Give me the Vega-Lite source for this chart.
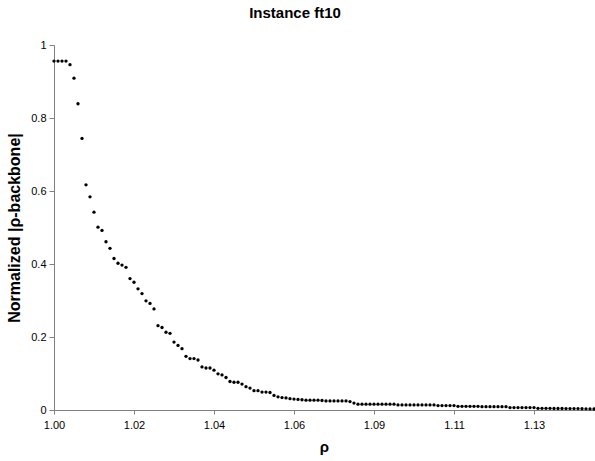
{
  "$schema": "https://vega.github.io/schema/vega-lite/v6.json",
  "autosize": "none",
  "width": 540,
  "height": 365,
  "padding": {"left": 54, "top": 45, "right": 1, "bottom": 51},
  "background": "white",
  "config": {
    "view": {"stroke": null},
    "font": "Liberation Sans"
  },
  "title": {
    "text": "Instance ft10",
    "fontSize": 15,
    "fontWeight": "bold",
    "font": "Liberation Sans",
    "color": "#000000",
    "anchor": "middle",
    "dx": -29,
    "offset": 18
  },
  "data": {
    "values": [
      {"rho": 1.0, "nb": 0.956}, {"rho": 1.00107, "nb": 0.956}, {"rho": 1.00214, "nb": 0.956}, {"rho": 1.00321, "nb": 0.956},
      {"rho": 1.00428, "nb": 0.946}, {"rho": 1.00535, "nb": 0.909}, {"rho": 1.00642, "nb": 0.839}, {"rho": 1.00749, "nb": 0.744},
      {"rho": 1.00856, "nb": 0.617}, {"rho": 1.00963, "nb": 0.584}, {"rho": 1.0107, "nb": 0.542}, {"rho": 1.01177, "nb": 0.501},
      {"rho": 1.01284, "nb": 0.492}, {"rho": 1.01391, "nb": 0.461}, {"rho": 1.01498, "nb": 0.443}, {"rho": 1.01605, "nb": 0.415},
      {"rho": 1.01712, "nb": 0.402}, {"rho": 1.01819, "nb": 0.397}, {"rho": 1.01926, "nb": 0.391}, {"rho": 1.02033, "nb": 0.36},
      {"rho": 1.0214, "nb": 0.35}, {"rho": 1.02247, "nb": 0.332}, {"rho": 1.02354, "nb": 0.319}, {"rho": 1.02461, "nb": 0.299},
      {"rho": 1.02568, "nb": 0.292}, {"rho": 1.02675, "nb": 0.277}, {"rho": 1.02782, "nb": 0.231}, {"rho": 1.02889, "nb": 0.226},
      {"rho": 1.02996, "nb": 0.213}, {"rho": 1.03103, "nb": 0.21}, {"rho": 1.0321, "nb": 0.186}, {"rho": 1.03317, "nb": 0.177},
      {"rho": 1.03424, "nb": 0.168}, {"rho": 1.03531, "nb": 0.147}, {"rho": 1.03638, "nb": 0.141}, {"rho": 1.03745, "nb": 0.141},
      {"rho": 1.03852, "nb": 0.137}, {"rho": 1.03959, "nb": 0.118}, {"rho": 1.04066, "nb": 0.115}, {"rho": 1.04173, "nb": 0.115},
      {"rho": 1.0428, "nb": 0.109}, {"rho": 1.04387, "nb": 0.099}, {"rho": 1.04494, "nb": 0.096}, {"rho": 1.04601, "nb": 0.089},
      {"rho": 1.04708, "nb": 0.078}, {"rho": 1.04815, "nb": 0.076}, {"rho": 1.04922, "nb": 0.076}, {"rho": 1.05029, "nb": 0.071},
      {"rho": 1.05136, "nb": 0.064}, {"rho": 1.05243, "nb": 0.06}, {"rho": 1.0535, "nb": 0.053}, {"rho": 1.05457, "nb": 0.053},
      {"rho": 1.05564, "nb": 0.049}, {"rho": 1.05671, "nb": 0.049}, {"rho": 1.05778, "nb": 0.048}, {"rho": 1.05885, "nb": 0.04},
      {"rho": 1.05992, "nb": 0.036}, {"rho": 1.06099, "nb": 0.034}, {"rho": 1.06206, "nb": 0.033}, {"rho": 1.06313, "nb": 0.031},
      {"rho": 1.0642, "nb": 0.03}, {"rho": 1.06527, "nb": 0.029}, {"rho": 1.06634, "nb": 0.028}, {"rho": 1.06741, "nb": 0.027},
      {"rho": 1.06848, "nb": 0.027}, {"rho": 1.06955, "nb": 0.027}, {"rho": 1.07062, "nb": 0.027}, {"rho": 1.07169, "nb": 0.026},
      {"rho": 1.07276, "nb": 0.025}, {"rho": 1.07383, "nb": 0.025}, {"rho": 1.0749, "nb": 0.025}, {"rho": 1.07597, "nb": 0.025},
      {"rho": 1.07704, "nb": 0.025}, {"rho": 1.07811, "nb": 0.025}, {"rho": 1.07918, "nb": 0.023}, {"rho": 1.08025, "nb": 0.019},
      {"rho": 1.08132, "nb": 0.016}, {"rho": 1.08239, "nb": 0.016}, {"rho": 1.08346, "nb": 0.016}, {"rho": 1.08453, "nb": 0.016},
      {"rho": 1.0856, "nb": 0.016}, {"rho": 1.08667, "nb": 0.016}, {"rho": 1.08774, "nb": 0.016}, {"rho": 1.08881, "nb": 0.016},
      {"rho": 1.08988, "nb": 0.016}, {"rho": 1.09095, "nb": 0.016}, {"rho": 1.09202, "nb": 0.014}, {"rho": 1.09309, "nb": 0.014},
      {"rho": 1.09416, "nb": 0.014}, {"rho": 1.09523, "nb": 0.014}, {"rho": 1.0963, "nb": 0.014}, {"rho": 1.09737, "nb": 0.014},
      {"rho": 1.09844, "nb": 0.014}, {"rho": 1.09951, "nb": 0.014}, {"rho": 1.10058, "nb": 0.014}, {"rho": 1.10165, "nb": 0.014},
      {"rho": 1.10272, "nb": 0.012}, {"rho": 1.10379, "nb": 0.012}, {"rho": 1.10486, "nb": 0.012}, {"rho": 1.10593, "nb": 0.012},
      {"rho": 1.107, "nb": 0.012}, {"rho": 1.10807, "nb": 0.01}, {"rho": 1.10914, "nb": 0.01}, {"rho": 1.11021, "nb": 0.01},
      {"rho": 1.11128, "nb": 0.01}, {"rho": 1.11235, "nb": 0.01}, {"rho": 1.11342, "nb": 0.01}, {"rho": 1.11449, "nb": 0.009},
      {"rho": 1.11556, "nb": 0.009}, {"rho": 1.11663, "nb": 0.009}, {"rho": 1.1177, "nb": 0.009}, {"rho": 1.11877, "nb": 0.009},
      {"rho": 1.11984, "nb": 0.009}, {"rho": 1.12091, "nb": 0.009}, {"rho": 1.12198, "nb": 0.0066}, {"rho": 1.12305, "nb": 0.0066},
      {"rho": 1.12412, "nb": 0.0066}, {"rho": 1.12519, "nb": 0.0066}, {"rho": 1.12626, "nb": 0.0066}, {"rho": 1.12733, "nb": 0.0066},
      {"rho": 1.1284, "nb": 0.0066}, {"rho": 1.12947, "nb": 0.0045}, {"rho": 1.13054, "nb": 0.0045}, {"rho": 1.13161, "nb": 0.0045},
      {"rho": 1.13268, "nb": 0.0045}, {"rho": 1.13375, "nb": 0.0042}, {"rho": 1.13482, "nb": 0.0042}, {"rho": 1.13589, "nb": 0.0042},
      {"rho": 1.13696, "nb": 0.004}, {"rho": 1.13803, "nb": 0.004}, {"rho": 1.1391, "nb": 0.004}, {"rho": 1.14017, "nb": 0.0038},
      {"rho": 1.14124, "nb": 0.0035}, {"rho": 1.14231, "nb": 0.0033}, {"rho": 1.14338, "nb": 0.003}, {"rho": 1.14445, "nb": 0.0028}
    ]
  },
  "mark": {"type": "point", "filled": true, "shape": "circle", "size": 11, "color": "#000000", "opacity": 1},
  "encoding": {
    "x": {
      "field": "rho",
      "type": "quantitative",
      "scale": {"domain": [1.0, 1.14445], "nice": false, "zero": false},
      "axis": {
        "title": "ρ",
        "titleFontSize": 15,
        "titleFontWeight": "bold",
        "titleFont": "Liberation Sans",
        "titleColor": "#000000",
        "titlePadding": 9,
        "values": [1.0, 1.0214, 1.0428, 1.0642, 1.0856, 1.107, 1.1284],
        "format": ".2f",
        "labelFontSize": 11,
        "labelFont": "Liberation Sans",
        "labelColor": "#000000",
        "labelPadding": 5,
        "labelFlush": false,
        "labelOverlap": false,
        "grid": false,
        "domainColor": "#808080",
        "tickColor": "#808080",
        "tickSize": 4
      }
    },
    "y": {
      "field": "nb",
      "type": "quantitative",
      "scale": {"domain": [0, 1], "nice": false},
      "axis": {
        "title": "Normalized |ρ-backbone|",
        "titleFontSize": 16,
        "titleFontWeight": "bold",
        "titleFont": "Liberation Sans",
        "titleColor": "#000000",
        "titlePadding": 8,
        "values": [0, 0.2, 0.4, 0.6, 0.8, 1],
        "format": ".1~f",
        "labelFontSize": 11,
        "labelFont": "Liberation Sans",
        "labelColor": "#000000",
        "labelPadding": 3,
        "labelFlush": false,
        "labelOverlap": false,
        "grid": false,
        "domainColor": "#808080",
        "tickColor": "#808080",
        "tickSize": 5
      }
    }
  }
}
